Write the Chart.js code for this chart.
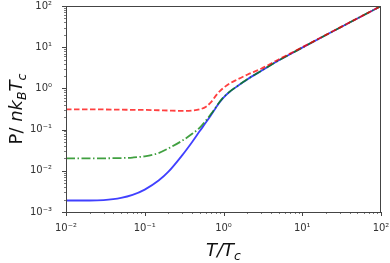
<!DOCTYPE html>
<html>
<head>
<meta charset="utf-8">
<script src="https://cdn.jsdelivr.net/npm/chart.js@4"></script>
<style>
  html, body { margin: 0; padding: 0; background: #fff; }
  #wrap { width: 390px; height: 263px; }
</style>
</head>
<body>
<div id="wrap"><canvas id="pressureChart"></canvas></div>
<script>
const temps = [0.01, 0.015, 0.02, 0.03, 0.05, 0.07, 0.1, 0.15, 0.2, 0.3, 0.4, 0.5, 0.6, 0.7, 0.8, 0.9, 1.0, 1.2, 1.5, 2, 3, 5, 7, 10, 20, 50, 100];
const blueP = [0.0019, 0.0019, 0.0019, 0.00195, 0.0022, 0.0026, 0.0035, 0.0058, 0.0095, 0.024, 0.050, 0.092, 0.15, 0.23, 0.34, 0.47, 0.60, 0.83, 1.13, 1.65, 2.65, 4.75, 6.75, 9.75, 19.75, 49.8, 99.8];
const greenP = [0.020, 0.020, 0.020, 0.0201, 0.0204, 0.021, 0.0225, 0.027, 0.035, 0.054, 0.079, 0.112, 0.168, 0.245, 0.35, 0.48, 0.61, 0.835, 1.135, 1.66, 2.66, 4.76, 6.76, 9.76, 19.76, 49.8, 99.8];
const redP = [0.31, 0.31, 0.31, 0.308, 0.305, 0.302, 0.30, 0.295, 0.29, 0.285, 0.29, 0.31, 0.36, 0.47, 0.67, 0.86, 1.03, 1.32, 1.65, 2.15, 3.0, 5.05, 7.0, 9.95, 19.9, 49.9, 99.9];

const xTicks = [0.01, 0.1, 1, 10, 100];
const xTickLabels = ["10\u207B\u00B2", "10\u207B\u00B9", "10\u2070", "10\u00B9", "10\u00B2"];
const yTicks = [0.001, 0.01, 0.1, 1, 10, 100];
const yTickLabels = ["10\u207B\u00B3", "10\u207B\u00B2", "10\u207B\u00B9", "10\u2070", "10\u00B9", "10\u00B2"];

const toPoints = (ys) => temps.map((t, i) => ({ x: t, y: ys[i] }));

function labelFor(value, ticks, labels) {
  const i = ticks.findIndex((t) => Math.abs(Math.log10(t) - Math.log10(value)) < 1e-6);
  return i >= 0 ? labels[i] : "";
}

// frame, minor/major tick marks and math-style axis titles
const framePlugin = {
  id: "frame",
  afterDraw(chart) {
    const { ctx, chartArea: a, scales } = chart;
    ctx.save();
    ctx.strokeStyle = "#444";
    ctx.lineWidth = 1;
    ctx.strokeRect(a.left + 0.5, a.top + 0.5, a.right - a.left - 1, a.bottom - a.top);

    // tick marks
    const drawTicks = (scale, horizontal) => {
      const min = scale.min, max = scale.max;
      for (let e = Math.floor(Math.log10(min)); e <= Math.ceil(Math.log10(max)); e++) {
        for (let m = 1; m <= 9; m++) {
          const v = m * Math.pow(10, e);
          if (v < min * 0.999 || v > max * 1.001) continue;
          const p = Math.round(scale.getPixelForValue(v)) + 0.5;
          const len = m === 1 ? 4 : 2;
          ctx.lineWidth = m === 1 ? 1 : 0.7;
          ctx.beginPath();
          if (horizontal) {
            ctx.moveTo(p, a.bottom);
            ctx.lineTo(p, a.bottom + len);
          } else {
            ctx.moveTo(a.left, p);
            ctx.lineTo(a.left - len, p);
          }
          ctx.stroke();
        }
      }
    };
    drawTicks(scales.x, true);
    drawTicks(scales.y, false);

    // axis titles with subscripts
    const big = 18, small = 12.5;
    const drawParts = (parts, cx, cy, rotate) => {
      ctx.save();
      ctx.translate(cx, cy);
      if (rotate) ctx.rotate(-Math.PI / 2);
      let total = 0;
      parts.forEach((p) => {
        ctx.font = p.font;
        p.w = ctx.measureText(p.t).width;
        total += p.w;
      });
      let x = -total / 2;
      ctx.fillStyle = "#111";
      ctx.textBaseline = "alphabetic";
      parts.forEach((p) => {
        ctx.font = p.font;
        ctx.fillText(p.t, x, p.dy);
        x += p.w;
      });
      ctx.restore();
    };
    const up = `${big}px 'DejaVu Sans'`;
    const it = `italic ${big}px 'DejaVu Sans'`;
    const sub = `italic ${small}px 'DejaVu Sans'`;
    drawParts([
      { t: "P/ ", font: up, dy: 6 },
      { t: "nk", font: it, dy: 6 },
      { t: "B", font: sub, dy: 10 },
      { t: "T", font: it, dy: 6 },
      { t: "c", font: sub, dy: 10 }
    ], 16, (a.top + a.bottom) / 2, true);
    drawParts([
      { t: "T/T", font: it, dy: 6 },
      { t: "c", font: sub, dy: 10 }
    ], (a.left + a.right) / 2, 250, false);
    ctx.restore();
  }
};

const ctx = document.getElementById("pressureChart").getContext("2d");

new Chart(ctx, {
  type: "line",
  data: {
    datasets: [
      {
        label: "blue",
        data: toPoints(blueP),
        borderColor: "rgba(0,0,255,0.75)",
        borderWidth: 1.8,
        order: 3,
      },
      {
        label: "green",
        data: toPoints(greenP),
        borderColor: "rgba(0,128,0,0.75)",
        borderWidth: 1.8,
        borderDash: [9, 2.5, 1.5, 2.5],
        order: 2,
      },
      {
        label: "red",
        data: toPoints(redP),
        borderColor: "rgba(255,0,0,0.75)",
        borderWidth: 1.8,
        borderDash: [5.5, 2.5],
        order: 1,
      },
    ],
  },
  options: {
    responsive: true,
    maintainAspectRatio: false,
    animation: false,
    elements: {
      point: { radius: 0, hoverRadius: 0 },
      line: { cubicInterpolationMode: "monotone", fill: false },
    },
    layout: { padding: { top: 6, right: 9, left: 0, bottom: 0 } },
    plugins: {
      legend: { display: false },
      tooltip: { enabled: false },
    },
    scales: {
      x: {
        type: "logarithmic",
        min: 0.01,
        max: 100,
        grid: { display: false },
        border: { display: false },
        afterFit: (scale) => {
          scale.height = 51;
          scale.paddingLeft = 0;
          scale.paddingRight = 0;
        },
        afterBuildTicks: (scale) => { scale.ticks = xTicks.map((v) => ({ value: v })); },
        ticks: {
          color: "#333",
          font: { family: "DejaVu Sans", size: 10 },
          padding: 2,
          autoSkip: false,
          maxRotation: 0,
          callback: (v) => labelFor(v, xTicks, xTickLabels),
        },
      },
      y: {
        type: "logarithmic",
        min: 0.001,
        max: 100,
        grid: { display: false },
        border: { display: false },
        afterFit: (scale) => {
          scale.width = 66;
          scale.paddingTop = 0;
          scale.paddingBottom = 0;
        },
        afterBuildTicks: (scale) => { scale.ticks = yTicks.map((v) => ({ value: v })); },
        ticks: {
          color: "#333",
          font: { family: "DejaVu Sans", size: 10 },
          padding: 6,
          autoSkip: false,
          callback: (v) => labelFor(v, yTicks, yTickLabels),
        },
      },
    },
  },
  plugins: [framePlugin],
});
</script>
</body>
</html>
